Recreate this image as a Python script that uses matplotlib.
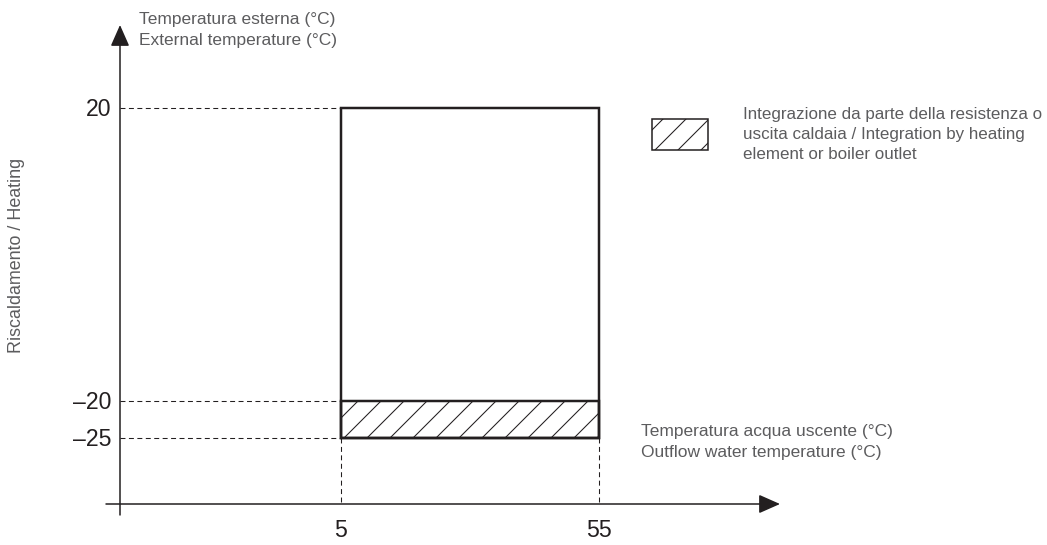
import matplotlib
matplotlib.use("Agg")
import matplotlib.pyplot as plt
from matplotlib.patches import Rectangle

# ---- data ----
water_temp_range = [5, 55]          # outflow water temperature (°C)
ext_temp_range = [-25, 20]          # external temperature (°C)
integration_range = [-25, -20]      # integration band (°C ext.)
x_ticks = [5, 55]
x_tick_labels = ["5", "55"]
y_ticks = [20, -20, -25]
y_tick_labels = ["20", "\u201320", "\u201325"]

y_title = ["Temperatura esterna (°C)", "External temperature (°C)"]
x_title = ["Temperatura acqua uscente (°C)", "Outflow water temperature (°C)"]
legend_lines = ["Integrazione da parte della resistenza o",
                "uscita caldaia / Integration by heating",
                "element or boiler outlet"]
side_label = "Riscaldamento / Heating"

# ---- layout helpers (pixel -> data for a 1047x545 canvas) ----
W, H, DPI = 1047, 545, 138
XS, X0 = 5.16, 315.2       # px per unit, px of value 0
YS, Y20 = 7.325, 108.0     # px per unit, px of value 20


def px2x(p):
    return (p - X0) / XS


def py2y(p):
    return 20 - (p - Y20) / YS


plt.rcParams['font.family'] = ['Liberation Sans', 'DejaVu Sans']
plt.rcParams['hatch.linewidth'] = 0.55

fig = plt.figure(figsize=(W / DPI, H / DPI), dpi=DPI)
ax = fig.add_axes([0, 0, 1, 1])
ax.set_xlim(px2x(0), px2x(W))
ax.set_ylim(py2y(H), py2y(0))
ax.axis('off')

dark = '#231f20'
grey = '#5c5c5e'

# axes with arrows
axis_x = px2x(120)
axis_y = py2y(504)
arrow_style = '-|>,head_length=0.95,head_width=0.42'
ax.annotate('', xy=(axis_x, py2y(25)), xytext=(axis_x, py2y(515)),
            arrowprops=dict(arrowstyle=arrow_style, lw=0.8, color=dark,
                            shrinkA=0, shrinkB=0, mutation_scale=10))
ax.annotate('', xy=(px2x(780), axis_y), xytext=(px2x(106), axis_y),
            arrowprops=dict(arrowstyle=arrow_style, lw=0.8, color=dark,
                            shrinkA=0, shrinkB=0, mutation_scale=10))

# dashed guide lines
dash = (0, (4.7, 3.3))
for yv in y_ticks:
    ax.plot([axis_x, water_temp_range[0]], [yv, yv], color=dark, lw=0.55,
            linestyle=dash)
for xv in x_ticks:
    ax.plot([xv, xv], [ext_temp_range[0], axis_y], color=dark, lw=0.55,
            linestyle=dash)

# hatched integration band
ax.add_patch(Rectangle((water_temp_range[0], integration_range[0]),
                       water_temp_range[1] - water_temp_range[0],
                       integration_range[1] - integration_range[0],
                       fill=False, hatch='//', edgecolor=dark, lw=1.3))
# main operating box
ax.add_patch(Rectangle((water_temp_range[0], ext_temp_range[0]),
                       water_temp_range[1] - water_temp_range[0],
                       ext_temp_range[1] - ext_temp_range[0],
                       fill=False, edgecolor=dark, lw=1.3))

# tick labels
for yv, lab in zip(y_ticks, y_tick_labels):
    ax.text(px2x(111), yv - 8 / YS, lab, ha='right', va='baseline',
            fontsize=12, color=dark)
for xv, lab in zip(x_ticks, x_tick_labels):
    ax.text(xv, py2y(537), lab, ha='center', va='baseline',
            fontsize=12, color=dark)

# axis titles
fs = 9.05
for i, line in enumerate(y_title):
    ax.text(px2x(139), py2y(24.3 + 21 * i), line, ha='left', va='baseline',
            fontsize=fs, color=grey)
for i, line in enumerate(x_title):
    ax.text(px2x(641), py2y(436 + 21 * i), line, ha='left', va='baseline',
            fontsize=fs, color=grey)

# legend
ax.add_patch(Rectangle((px2x(652), py2y(150)), px2x(708) - px2x(652),
                       py2y(119) - py2y(150), fill=False, hatch='//',
                       edgecolor=dark, lw=0.8))
for i, line in enumerate(legend_lines):
    ax.text(px2x(743), py2y(119 + 20 * i), line, ha='left', va='baseline',
            fontsize=8.9, color=grey)

# side label
ax.text(px2x(17), py2y(255), side_label, rotation=90, ha='center',
        va='center', fontsize=9.3, color=grey)

fig.savefig('out.png', dpi=DPI)
